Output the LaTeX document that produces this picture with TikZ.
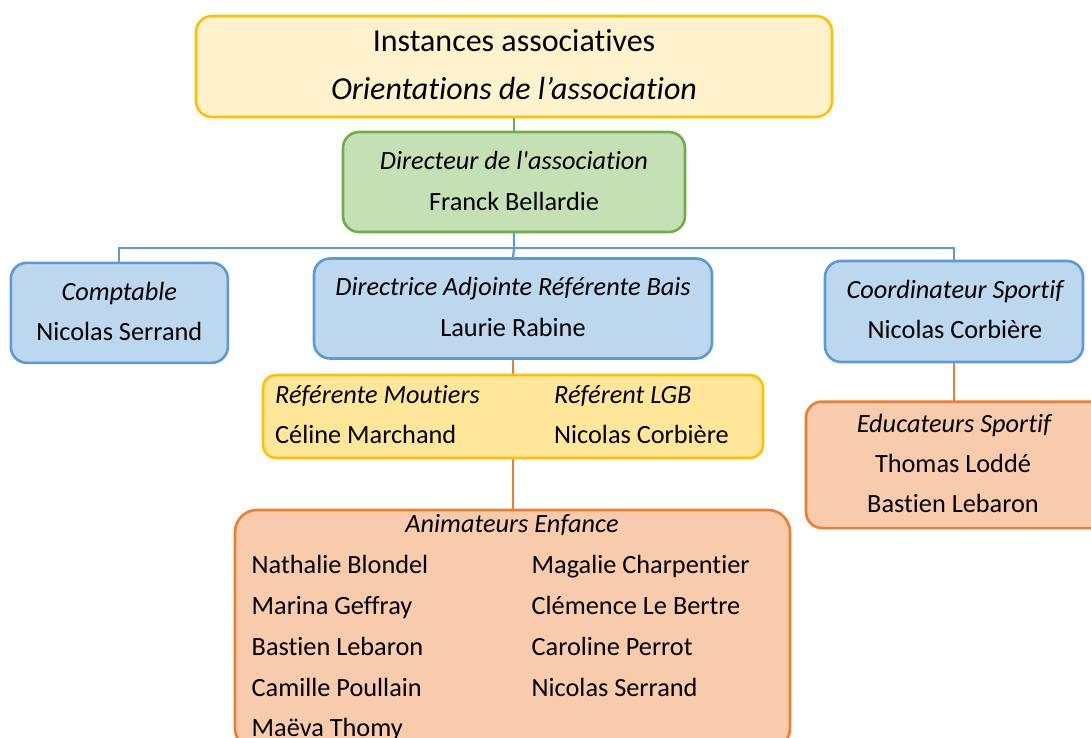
\documentclass[tikz,border=0pt]{standalone}
\usepackage{fontspec}
\setmainfont{Carlito}[Ligatures={TeX,NoCommon}]
\definecolor{yelF}{HTML}{FFF2CC}
\definecolor{yelB}{HTML}{FFC000}
\definecolor{grnF}{HTML}{C5E0B4}
\definecolor{grnB}{HTML}{70AD47}
\definecolor{bluF}{HTML}{BDD7EE}
\definecolor{bluB}{HTML}{5B9BD5}
\definecolor{ye2F}{HTML}{FFE699}
\definecolor{oraF}{HTML}{F8CBAD}
\definecolor{oraB}{HTML}{ED7D31}
\begin{document}
\begin{tikzpicture}[x=1pt,y=-1pt,
  box/.style={draw, rounded corners=16pt, line width=2.6pt, inner sep=0pt, outer sep=0pt},
  txt/.style={font=\fontsize{26.3}{30}\selectfont, anchor=base, inner sep=0pt},
  bigtxt/.style={font=\fontsize{32}{36}\selectfont, anchor=base, inner sep=0pt},
  ltxt/.style={txt, anchor=base west},
  conn/.style={line width=2.2pt}]
\useasboundingbox (0,0) rectangle (1091,738);
\clip (0,0) rectangle (1091,738);

% connectors (drawn first, behind boxes)
\coordinate (bus) at (514,248);
\coordinate (topbot) at (514,117);
\coordinate (grntop) at (514,132);
\coordinate (grnbot) at (514,232);
\coordinate (compttop) at (119.3,263);
\coordinate (coordtop) at (954,261);
\coordinate (adjtop) at (513,258);
\coordinate (adjbot) at (513,358);
\coordinate (animtop) at (513,510);
\coordinate (coordbot) at (954,362);
\coordinate (eductop) at (954,401.5);
\draw[conn, grnB] (topbot) -- (grntop);
\draw[conn, bluB] (grnbot) -- (bus);
\draw[conn, bluB] (bus) -| (compttop);
\draw[conn, bluB] (bus) -| (coordtop);
\draw[conn, bluB] (bus) -- (adjtop);
\draw[conn, oraB] (adjbot) -- (animtop);
\draw[conn, oraB] (coordbot) -- (eductop);

% boxes
\node[box, draw=yelB, fill=yelF, minimum width=636pt, minimum height=101pt] (inst) at (514,66.5) {};
\node[box, draw=grnB, fill=grnF, minimum width=342pt, minimum height=100pt] (dir) at (514,182) {};
\node[box, draw=bluB, fill=bluF, minimum width=217pt, minimum height=100pt] (compt) at (119.3,312.8) {};
\node[box, draw=bluB, fill=bluF, minimum width=398pt, minimum height=100pt] (adj) at (513,308.5) {};
\node[box, draw=bluB, fill=bluF, minimum width=258pt, minimum height=101pt] (coord) at (954,311.5) {};
\node[box, draw=yelB, fill=ye2F, rounded corners=13pt, minimum width=500pt, minimum height=83pt] (refs) at (513,416.5) {};
\node[box, draw=oraB, fill=oraF, minimum width=304pt, minimum height=126.5pt] (educ) at (958,464.8) {};
\node[box, draw=oraB, fill=oraF, rounded corners=22pt, minimum width=555pt, minimum height=240pt] (anim) at (512.5,630) {};

% texts
\node[bigtxt] (t1) at (514,52) {Instances associatives};
\node[bigtxt] (t2) at (514,100) {\itshape Orientations de l’association};

\node[txt] (d1) at (514,170) {\itshape Directeur de l\textquotesingle association};
\node[txt] (d2) at (514,210) {Franck Bellardie};

\node[txt] (c1) at (119.3,300) {\itshape Comptable};
\node[txt] (c2) at (119.3,340) {Nicolas Serrand};

\node[txt] (a1) at (513,295.5) {\itshape Directrice Adjointe Référente Bais};
\node[txt] (a2) at (513,336.5) {Laurie Rabine};

\node[txt] (s1) at (955,298) {\itshape Coordinateur Sportif};
\node[txt] (s2) at (955,338.5) {Nicolas Corbière};

\node[ltxt] (r1) at (275,403) {\itshape Référente Moutiers};
\node[ltxt] (r2) at (275,443) {Céline Marchand};
\node[ltxt] (r3) at (554,403) {\itshape Référent LGB};
\node[ltxt] (r4) at (554,443) {Nicolas Corbière};

\node[txt] (e1) at (954,432) {\itshape Educateurs Sportif};
\node[txt] (e2) at (953,472) {Thomas Loddé};
\node[txt] (e3) at (953,512.5) {Bastien Lebaron};

\node[txt] (n0) at (512,532) {\itshape Animateurs Enfance};
\node[ltxt] (n1) at (251.5,573) {Nathalie Blondel};
\node[ltxt] (n2) at (251.5,614) {Marina Geffray};
\node[ltxt] (n3) at (251.5,655) {Bastien Lebaron};
\node[ltxt] (n4) at (251.5,696) {Camille Poullain};
\node[ltxt] (n5) at (251.5,736) {Maëva Thomy};
\node[ltxt] (m1) at (531.5,573) {Magalie Charpentier};
\node[ltxt] (m2) at (531.5,614) {Clémence Le Bertre};
\node[ltxt] (m3) at (531.5,655) {Caroline Perrot};
\node[ltxt] (m4) at (531.5,696) {Nicolas Serrand};
\end{tikzpicture}
\end{document}
